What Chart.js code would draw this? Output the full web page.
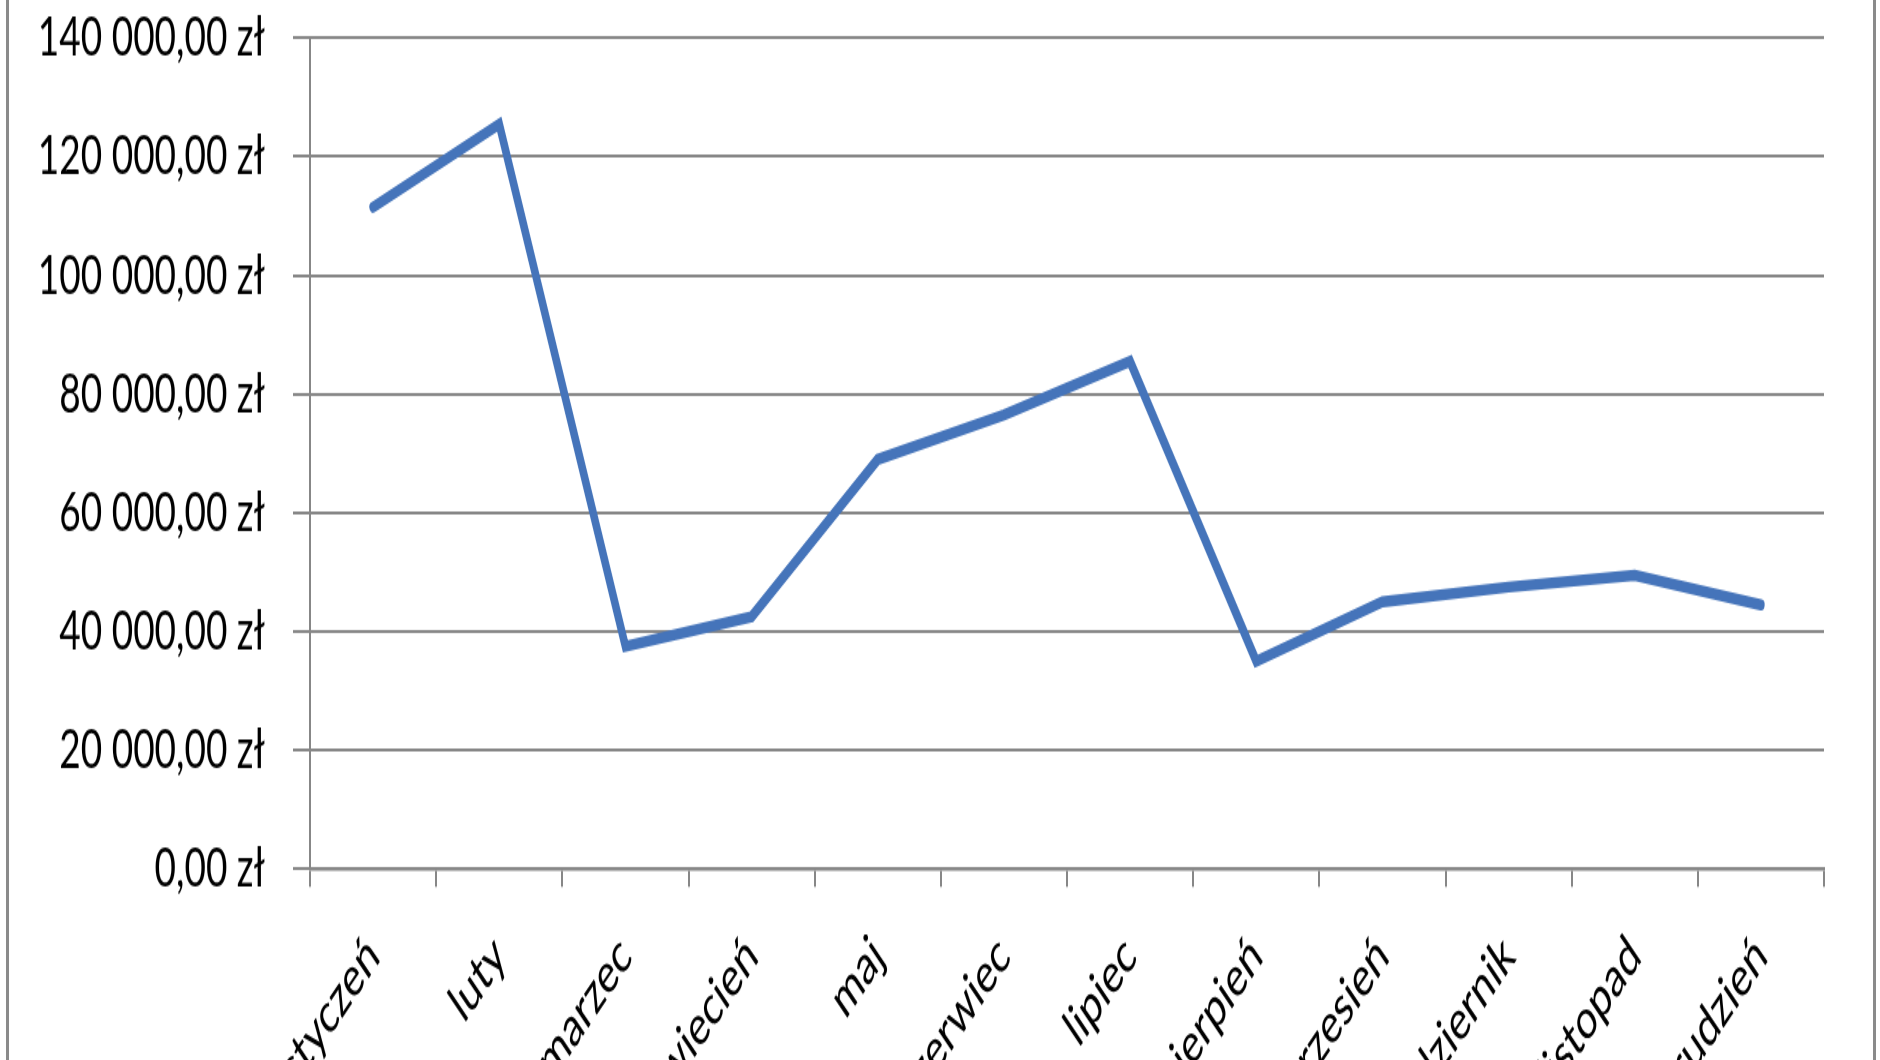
<!DOCTYPE html>
<html>
<head>
<meta charset="utf-8">
<script src="https://cdn.jsdelivr.net/npm/chart.js@4.4.1/dist/chart.umd.min.js"></script>
<style>
  html, body { margin: 0; padding: 0; width: 1880px; height: 1060px; overflow: hidden; background: #ffffff; }
  #frame { position: absolute; left: 6px; top: 0; width: 1864px; height: 1060px; border-left: 3px solid #8a8a8a; border-right: 3px solid #8a8a8a; box-sizing: content-box; }
  #c { position: absolute; left: 0; top: 0; width: 1880px; height: 720px; transform: scaleY(1.5); transform-origin: 0 0; }
</style>
</head>
<body>
<div id="frame"></div>
<canvas id="c" width="1880" height="720"></canvas>
<script>
const months = ['styczeń', 'luty', 'marzec', 'kwiecień', 'maj', 'czerwiec', 'lipiec', 'sierpień', 'wrzesień', 'październik', 'listopad', 'grudzień'];
const values = [111500, 125500, 37500, 42500, 69000, 76500, 85500, 35000, 45000, 47500, 49500, 44500];
const yTickValues = [0, 20000, 40000, 60000, 80000, 100000, 120000, 140000];
const yTickLabels = ['0,00 zł', '20 000,00 zł', '40 000,00 zł', '60 000,00 zł', '80 000,00 zł', '100 000,00 zł', '120 000,00 zł', '140 000,00 zł'];

const GRID = '#878787';
const BLUE = '#4574BA';
const FONT = { family: 'Lato, "Open Sans", sans-serif', size: 37 };

function draw() {
  new Chart(document.getElementById('c'), {
    type: 'line',
    data: {
      labels: months,
      datasets: [{
        data: values,
        borderColor: BLUE,
        backgroundColor: BLUE,
        borderWidth: 7.5,
        pointRadius: 0,
        tension: 0,
        borderCapStyle: 'round',
        borderJoinStyle: 'miter',
        fill: false
      }]
    },
    options: {
      responsive: false,
      devicePixelRatio: 1,
      animation: false,
      layout: { padding: { left: 0, right: 56, top: 25.33, bottom: 0 } },
      plugins: { legend: { display: false }, tooltip: { enabled: false } },
      scales: {
        x: {
          offset: true,
          grid: { offset: true, drawOnChartArea: false, drawTicks: true, tickLength: 12, color: GRID, lineWidth: 2 },
          border: { display: true, color: GRID, width: 2.5 },
          ticks: { color: '#000', font: FONT, minRotation: 45, maxRotation: 45, padding: 24, autoSkip: false },
          afterFit: (s) => { s.height = 720 - 579.33; s.paddingLeft = 0; s.paddingRight = 0; }
        },
        y: {
          min: 0, max: 140000,
          afterBuildTicks: (s) => { s.ticks = yTickValues.map(v => ({ value: v })); },
          grid: { color: GRID, lineWidth: 2, drawTicks: true, tickLength: 17 },
          border: { display: true, color: GRID, width: 2 },
          ticks: {
            color: '#000', font: FONT, padding: 28,
            callback: (v) => { const i = yTickValues.indexOf(v); return i >= 0 ? yTickLabels[i] : ''; }
          },
          afterFit: (s) => { s.width = 310; s.paddingTop = 0; s.paddingBottom = 0; }
        }
      }
    }
  });
}
if (document.fonts && document.fonts.load) {
  document.fonts.load('37px Lato').then(draw, draw);
} else { draw(); }
</script>
</body>
</html>
